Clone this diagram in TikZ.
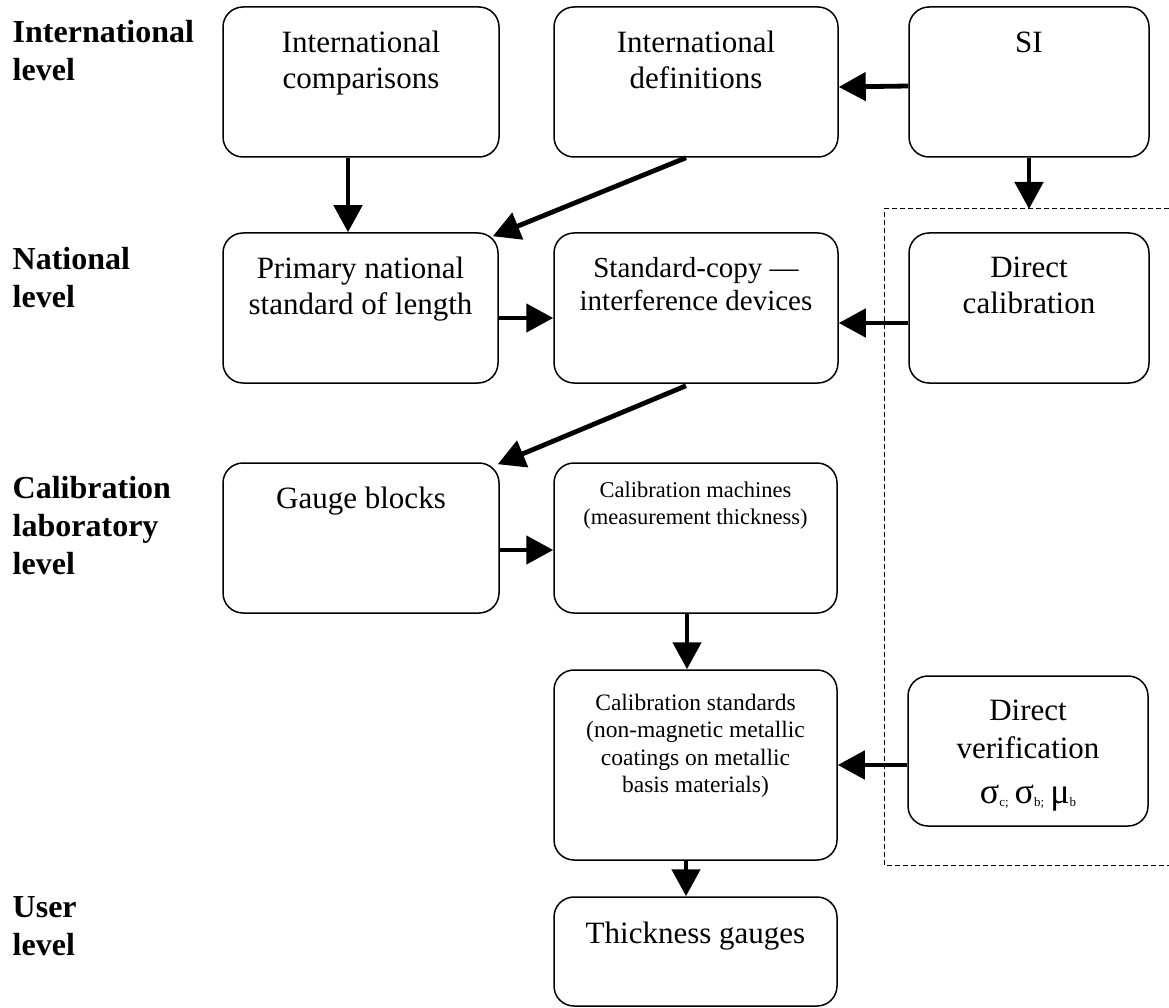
\documentclass[tikz,border=0pt]{standalone}
\usepackage{fontspec}
\setmainfont{Liberation Serif}
\usetikzlibrary{arrows.meta}
\begin{document}
\begin{tikzpicture}[x=1pt,y=-1pt,
  bx/.style={draw, line width=1.5pt, rounded corners=20pt, inner sep=0pt},
  txt/.style={anchor=north, align=center, inner sep=0pt},
  fbig/.style={font=\fontsize{31}{36}\selectfont},
  fmid/.style={font=\fontsize{29}{33}\selectfont},
  fsml/.style={font=\fontsize{22.5}{26.5}\selectfont},
  fstd/.style={font=\fontsize{23.5}{27.3}\selectfont},
  lvl/.style={anchor=north west, align=left, inner sep=0pt, font=\fontsize{32}{38}\selectfont\bfseries},
  conn/.style={line width=4.8pt, -{Triangle[length=27pt,width=28pt]}},
  zone/.style={line width=1pt, dash pattern=on 5pt off 3pt}
]
\useasboundingbox (0,0) rectangle (1169,1008);

% level labels
\node[lvl] (l1) at (12.5,20.4) {International\\level};
\node[lvl] (l2) at (12.5,247.4) {National\\level};
\node[lvl] (l3) at (12.5,476.4) {Calibration\\laboratory\\level};
\node[lvl] (l4) at (12.5,896.4) {User\\level};

% boxes
\node[bx, minimum width=276pt, minimum height=150pt] (comp) at (361,82) {};
\node[bx, minimum width=284pt, minimum height=150pt] (defs) at (696,82) {};
\node[bx, minimum width=240pt, minimum height=150pt] (si) at (1029,82) {};
\node[bx, minimum width=275pt, minimum height=150pt] (prim) at (360.5,308) {};
\node[bx, minimum width=284pt, minimum height=150pt] (copy) at (696,308) {};
\node[bx, minimum width=240pt, minimum height=150pt] (dcal) at (1029,308) {};
\node[bx, minimum width=276pt, minimum height=150pt] (gauge) at (361,538) {};
\node[bx, minimum width=283pt, minimum height=150pt] (mach) at (695.5,538) {};
\node[bx, minimum width=283pt, minimum height=190pt] (cstd) at (695.5,765) {};
\node[bx, minimum width=240pt, minimum height=150pt] (dver) at (1028,751) {};
\node[bx, minimum width=283pt, minimum height=109pt] (thick) at (695.5,951.5) {};

% texts
\node[txt, fbig] (tcomp) at (361,30.8) {International\\comparisons};
\node[txt, fbig] (tdefs) at (696,30.8) {International\\definitions};
\node[txt, fbig] (tsi) at (1029,31.5) {SI};
\node[txt, fbig] (tprim) at (360.5,256.8) {Primary national\\standard of length};
\node[txt, fmid] (tcopy) at (696,257.2) {Standard-copy —\\interference devices};
\node[txt, fbig] (tdcal) at (1029,257) {Direct\\calibration};
\node[txt, fbig] (tgauge) at (361,486.8) {Gauge blocks};
\node[txt, fsml] (tmach) at (695.5,482) {Calibration machines\\(measurement thickness)};
\node[txt, fstd] (tcstd) at (695.5,694) {Calibration standards\\(non-magnetic metallic\\coatings on metallic\\basis materials)};
\node[txt, fbig] (tdver) at (1028,700) {Direct\\[2pt]verification\\[9pt]{\fontsize{36}{36}\selectfont σ\raisebox{-3pt}{\fontsize{13}{13}\selectfont c;}\,σ\raisebox{-3pt}{\fontsize{13}{13}\selectfont b;}\,μ\raisebox{-3pt}{\fontsize{13}{13}\selectfont b}}};
\node[txt, fbig] (tthick) at (695.5,921.8) {Thickness gauges};

% dashed zone
\draw[zone] (1169,209) -- (884,209) -- (884,865) -- (1169,865);
\coordinate (dtop) at (1029,209);

% connectors
\draw[conn] ([xshift=-13pt]comp.south) -- ([xshift=-12.5pt]prim.north);
\draw[conn] ([xshift=-10pt]defs.south) -- ([xshift=-6pt,yshift=-4pt]prim.north east);
\draw[conn] ([yshift=-4pt]si.west) -- ([yshift=-5pt]defs.east);
\draw[conn] (si.south) -- (dtop);
\draw[conn] ([yshift=-10pt]prim.east) -- ([yshift=-10pt]copy.west);
\draw[conn] ([yshift=-15pt]dcal.west) -- ([yshift=-15pt]copy.east);
\draw[conn] ([xshift=-10pt,yshift=-2pt]copy.south) -- ([xshift=-2pt,yshift=-2pt]gauge.north east);
\draw[conn] ([yshift=-12pt]gauge.east) -- ([yshift=-12pt]mach.west);
\draw[conn] ([xshift=-8.5pt]mach.south) -- ([xshift=-8.5pt]cstd.north);
\draw[conn] ([yshift=-14pt]dver.west) -- (cstd.east);
\draw[conn] ([xshift=-9.5pt]cstd.south) -- ([xshift=-9.5pt]thick.north);
\end{tikzpicture}
\end{document}
